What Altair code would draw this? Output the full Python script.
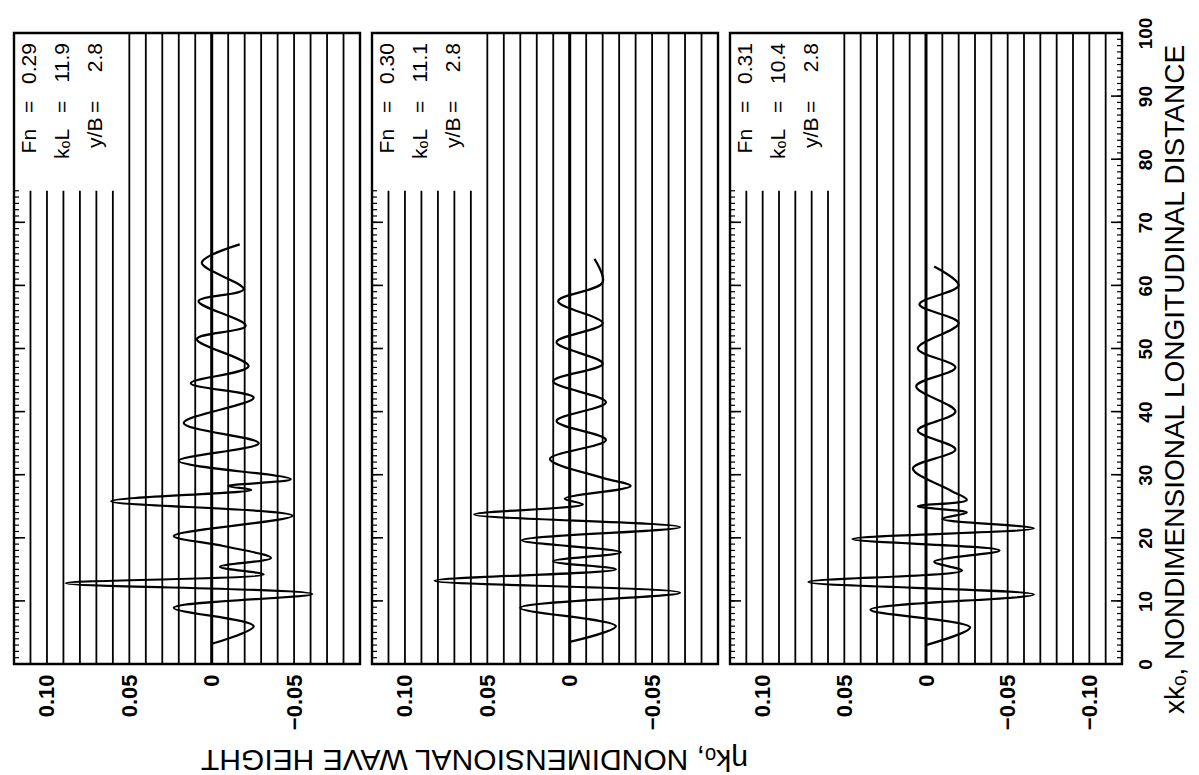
import altair as alt
import pandas as pd

FONT = "Liberation Sans"

# Run parameters printed in the caption block of each panel
FN = ["0.29", "0.30", "0.31"]
KOL = ["11.9", "11.1", "10.4"]
YB = ["2.8", "2.8", "2.8"]

# Longitudinal wave cuts: position x*k0 and wave height eta*k0
XK_1 = [3.2, 6.0, 8.9, 11.1, 12.8, 14.2, 15.4, 16.8, 18.7, 20.3, 23.5, 25.8, 27.6, 28.2,
        29.3, 32.2, 35.0, 38.2, 42.2, 44.5, 47.2, 51.5, 53.6, 57.5, 59.4, 63.6, 66.5]
ETA_1 = [0.000, -0.0255, 0.023, -0.061, 0.0885, -0.0315, -0.005, -0.036, -0.007, 0.023,
         -0.049, 0.061, -0.024, -0.010, -0.048, 0.020, -0.0285, 0.017, -0.0255, 0.0127,
         -0.0224, 0.009, -0.0206, 0.008, -0.0194, 0.006, -0.017]

XK_2 = [3.5, 6.0, 8.9, 11.3, 13.2, 15.0, 16.3, 17.7, 19.6, 21.7, 23.7, 25.3, 26.2, 28.2,
        29.5, 32.5, 35.5, 38.5, 41.5, 44.8, 47.6, 51.0, 54.0, 57.5, 60.5, 64.2]
ETA_2 = [0.000, -0.028, 0.030, -0.067, 0.082, -0.028, 0.010, -0.031, 0.029, -0.067,
         0.058, -0.008, 0.003, -0.037, -0.020, 0.012, -0.022, 0.008, -0.022, 0.010,
         -0.020, 0.008, -0.020, 0.007, -0.020, -0.015]

XK_3 = [3.0, 5.8, 8.6, 11.0, 13.0, 14.8, 16.2, 18.0, 19.8, 21.5, 23.0, 24.0, 25.0, 26.0,
        27.5, 31.0, 34.0, 37.0, 40.0, 44.0, 47.0, 50.0, 54.0, 57.0, 60.0, 63.0]
ETA_3 = [0.000, -0.027, 0.034, -0.066, 0.072, -0.022, -0.005, -0.045, 0.045, -0.066,
         -0.010, -0.025, 0.005, -0.025, -0.015, 0.008, -0.018, 0.005, -0.018, 0.006,
         -0.018, 0.005, -0.020, 0.004, -0.020, -0.005]

ETA_TOP = 0.12
ETA_BOTTOM = [-0.09, -0.09, -0.12]
PANEL_W = [346, 346, 392]
PANEL_H = 631
LINE = "black"


def panel(i, xk, eta):
    lo = ETA_BOTTOM[i]
    w = PANEL_W[i]
    xs = alt.Scale(domain=[lo, ETA_TOP], reverse=True, nice=False, zero=False)
    ys = alt.Scale(domain=[0, 100], nice=False, zero=False)

    grid_vals = [k / 100 for k in range(round(lo * 100) + 1, round(ETA_TOP * 100))]
    label_vals = [v for v in (0.10, 0.05, 0.0, -0.05, -0.10) if v > lo + 1e-9]

    x_kw = dict(
        values=label_vals, labelExpr="datum.value == 0 ? '0' : format(datum.value, '.2f')",
        labelAngle=270, labelFontSize=22, labelFontWeight="bold", labelPadding=10,
        tickSize=0, ticks=False, domain=False, grid=False, labelFlush=False,
        labelOverlap=False,
    )
    if i == 1:
        x_axis = alt.Axis(
            title="ηkₒ, NONDIMENSIONAL WAVE HEIGHT", titleAngle=180, titleFontSize=30,
            titleFontWeight="normal", titleX=102, titleY=94, titleAlign="center",
            titleBaseline="middle", **x_kw,
        )
    else:
        x_axis = alt.Axis(title=None, **x_kw)

    if i == 2:
        y_axis = alt.Axis(
            orient="right", values=list(range(0, 101, 10)), labelAngle=270,
            labelAlign="center", labelBaseline="top", labelFontSize=19,
            labelFontWeight="bold", labelPadding=14,
            tickSize=0, ticks=False, domain=False, grid=False, labelFlush=False,
            labelOverlap=False,
            title="xkₒ, NONDIMENSIONAL LONGITUDINAL DISTANCE", titleAngle=270,
            titleFontSize=28, titleFontWeight="normal", titleX=53, titleY=346,
            titleAlign="center", titleBaseline="middle",
        )
    else:
        y_axis = None

    curve_df = pd.DataFrame({"xk": xk, "eta": eta})
    grid_df = pd.DataFrame({"eta": grid_vals})
    zero_df = pd.DataFrame({"eta": [0.0]})
    box_df = pd.DataFrame({"eta": [ETA_TOP], "eta2": [0.055], "xk": [75.0], "xk2": [100.0]})
    minor_df = pd.DataFrame({"xk": list(range(0, 76))})
    major_df = pd.DataFrame({"xk": list(range(0, 76, 10))})
    one_df = pd.DataFrame({"k": [0]})

    caption_names = pd.DataFrame({"eta": [0.11, 0.09, 0.07], "xk": [84.8, 84.8, 86.6],
                                  "t": ["Fn", "kₒL", "y/B"]})
    caption_eq = pd.DataFrame({"eta": [0.11, 0.09, 0.07], "xk": [88.3] * 3, "t": ["="] * 3})
    caption_vals = pd.DataFrame({"eta": [0.11, 0.09, 0.07], "xk": [98.4] * 3,
                                 "t": [FN[i], KOL[i], YB[i]]})

    def X(f="eta"):
        return alt.X(f"{f}:Q", scale=xs, axis=x_axis)

    def Y(f="xk"):
        return alt.Y(f"{f}:Q", scale=ys, axis=y_axis)

    grid = alt.Chart(grid_df).mark_rule(color=LINE, strokeWidth=1.8).encode(x=X())
    zero = alt.Chart(zero_df).mark_rule(color=LINE, strokeWidth=3).encode(x=X())
    box = alt.Chart(box_df).mark_rect(color="white").encode(
        x=X(), x2="eta2:Q", y=Y(), y2="xk2:Q")
    minor = alt.Chart(minor_df).mark_rule(color=LINE, strokeWidth=1.2).encode(
        y=Y(), x=alt.value(0), x2=alt.value(5))
    major = alt.Chart(major_df).mark_rule(color=LINE, strokeWidth=1.6).encode(
        y=Y(), x=alt.value(0), x2=alt.value(11))
    curve = alt.Chart(curve_df).mark_line(
        color=LINE, strokeWidth=2.2, interpolate="catmull-rom").encode(
        x=X(), y=Y(), order="xk:Q")
    text_kw = dict(angle=270, baseline="middle", fontSize=21, font=FONT, color="black")
    names = alt.Chart(caption_names).mark_text(align="right", **text_kw).encode(
        x=X(), y=Y(), text="t:N")
    eqs = alt.Chart(caption_eq).mark_text(align="center", **text_kw).encode(
        x=X(), y=Y(), text="t:N")
    vals = alt.Chart(caption_vals).mark_text(align="right", **text_kw).encode(
        x=X(), y=Y(), text="t:N")
    frame = alt.Chart(one_df).mark_rect(fill="transparent", stroke=LINE, strokeWidth=2.4).encode(
        x=alt.value(0), x2=alt.value(w), y=alt.value(0), y2=alt.value(PANEL_H))

    layers = [grid, zero, box, minor, major]
    if i == 2:
        rminor = alt.Chart(pd.DataFrame({"xk": list(range(0, 101))})).mark_rule(
            color=LINE, strokeWidth=1.2).encode(y=Y(), x=alt.value(w - 5), x2=alt.value(w))
        rmajor = alt.Chart(pd.DataFrame({"xk": list(range(0, 101, 10))})).mark_rule(
            color=LINE, strokeWidth=1.6).encode(y=Y(), x=alt.value(w - 11), x2=alt.value(w))
        layers += [rminor, rmajor]
    layers += [curve, names, eqs, vals, frame]
    return alt.layer(*layers).properties(width=w, height=PANEL_H)


chart = (
    alt.hconcat(
        panel(0, XK_1, ETA_1),
        panel(1, XK_2, ETA_2),
        panel(2, XK_3, ETA_3),
        spacing=12,
        bounds="flush",
    )
    .properties(padding={"left": 12, "top": 17, "right": 0, "bottom": 24}, background="white")
    .configure(font=FONT)
    .configure_view(stroke=None)
    .configure_axis(labelFont=FONT, titleFont=FONT, labelColor="black", titleColor="black")
)

chart.save("out.html", embed_options={"renderer": "svg", "actions": False})
